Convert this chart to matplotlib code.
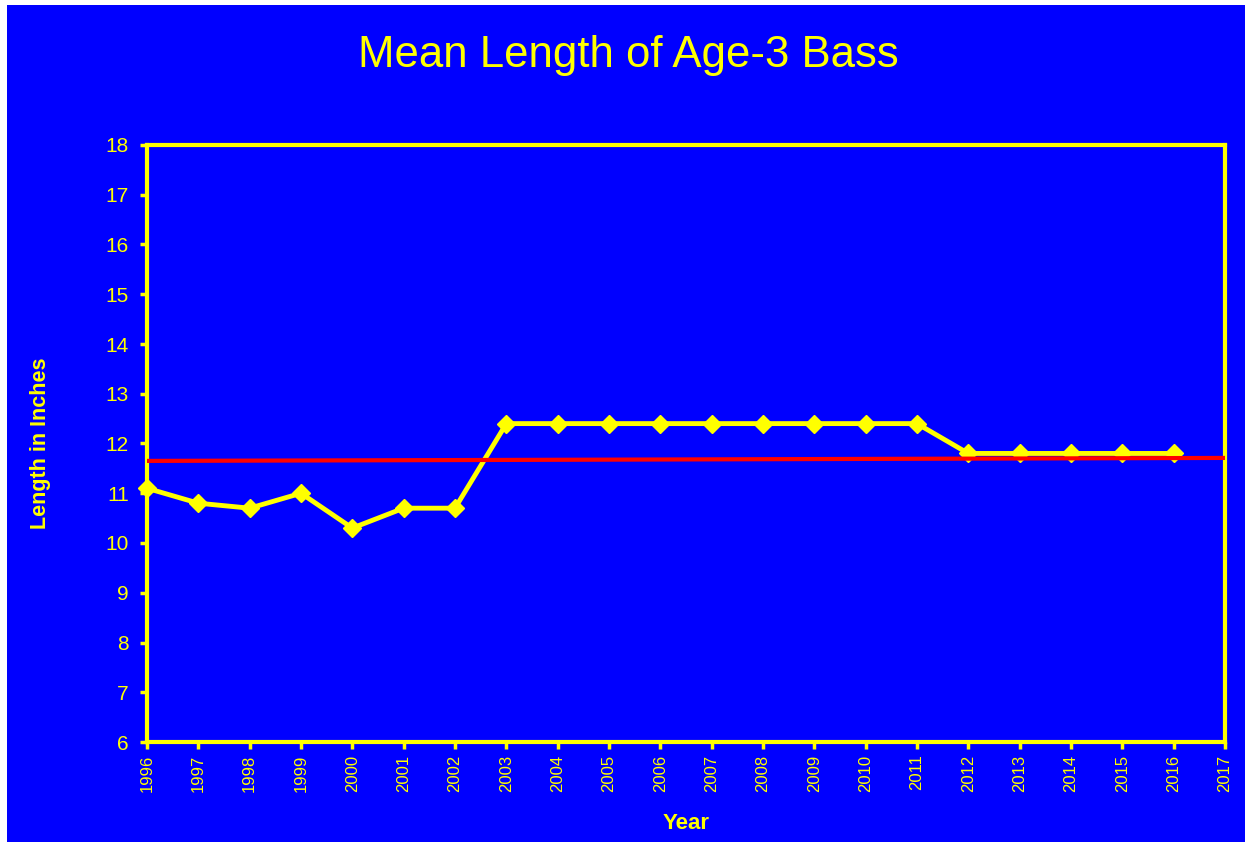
# Mean length of age-3 bass, yellow on blue style
import matplotlib
matplotlib.use("Agg")
import matplotlib.pyplot as plt
from matplotlib.patches import Rectangle

# Data
years = [1996, 1997, 1998, 1999, 2000, 2001, 2002, 2003, 2004, 2005, 2006,
         2007, 2008, 2009, 2010, 2011, 2012, 2013, 2014, 2015, 2016]
mean_length = [11.1, 10.8, 10.7, 11.0, 10.3, 10.7, 10.7, 12.4, 12.4, 12.4, 12.4,
               12.4, 12.4, 12.4, 12.4, 12.4, 11.8, 11.8, 11.8, 11.8, 11.8]
trend_years = [1996, 2017]
trend_values = [11.65, 11.71]
x_ticks = list(range(1996, 2018))
y_ticks = list(range(6, 19))

BLUE = "#0000FF"
YELLOW = "#FFFF00"
RED = "#FF0000"

plt.rcParams["font.family"] = ["Liberation Sans", "DejaVu Sans"]

fig = plt.figure(figsize=(12.52, 8.47), dpi=100, facecolor="white")
# blue slide background with thin white margin
fig.patches.append(Rectangle((7 / 1252, 5 / 847), 1238 / 1252, 837 / 847,
                             transform=fig.transFigure, facecolor=BLUE,
                             edgecolor="none", zorder=-10))

ax = fig.add_axes([147 / 1252, 1 - 742 / 847, (1225 - 147) / 1252, (742 - 145) / 847])
ax.set_facecolor(BLUE)

ax.plot(years, mean_length, color=YELLOW, linewidth=3.5, marker="D",
        markersize=9, markeredgecolor=YELLOW, zorder=2, clip_on=False)
# red line sits on top of the yellow series
ax.plot(trend_years, trend_values, color=RED, linewidth=3, zorder=3)

ax.set_xlim(1996, 2017)
ax.set_ylim(6, 18)
ax.set_xticks(x_ticks)
ax.set_xticklabels([str(y) for y in x_ticks], rotation=90)
ax.set_yticks(y_ticks)

for s in ax.spines.values():
    s.set_color(YELLOW)
    s.set_linewidth(3)

ax.tick_params(axis="both", colors=YELLOW, width=2.5, length=5, direction="out")
ax.tick_params(axis="y", labelsize=15, pad=8)
ax.tick_params(axis="x", labelsize=12, pad=4)

ax.set_ylabel("Length in Inches", color=YELLOW, fontsize=15.5, fontweight="bold", labelpad=39)
ax.set_xlabel("Year", color=YELLOW, fontsize=16, fontweight="bold", labelpad=15)

fig.text(0.5016, 1 - 56 / 847, "Mean Length of Age-3 Bass", color=YELLOW,
         fontsize=31.5, ha="center", va="center")

fig.savefig("out.png", dpi=100, facecolor=fig.get_facecolor())
